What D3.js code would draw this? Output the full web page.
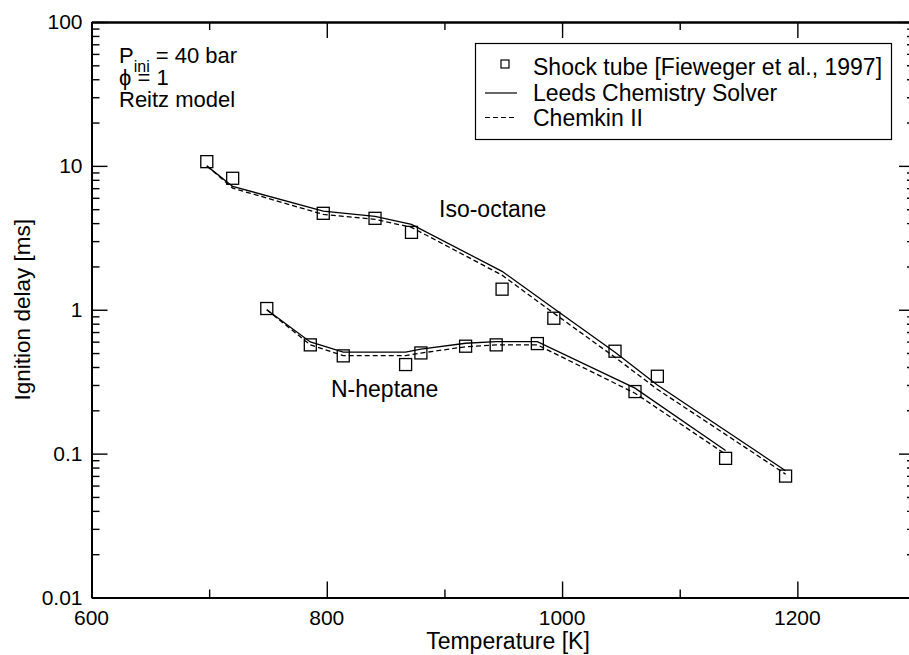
<!DOCTYPE html>
<html>
<head>
<meta charset="utf-8">
<script src="https://cdn.jsdelivr.net/npm/d3@7"></script>
<style>
  body { margin: 0; background: #fff; }
  svg { display: block; }
  text { font-family: "Liberation Sans", Arial, Helvetica, sans-serif; fill: #000; }
</style>
</head>
<body>
<svg id="chart" width="909" height="655"></svg>
<script>
// Shock tube measurements (Fieweger et al., 1997)
const isoExpTemp   = [698, 720, 797, 841, 872, 949, 993, 1045, 1081, 1190];
const isoExpDelay  = [10.7, 8.2, 4.68, 4.32, 3.45, 1.39, 0.873, 0.515, 0.345, 0.0698];
const hepExpTemp   = [749, 786, 814, 867, 880, 918, 944, 979, 1062, 1139];
const hepExpDelay  = [1.02, 0.570, 0.478, 0.416, 0.501, 0.558, 0.570, 0.582, 0.270, 0.0927];

// Model predictions (Reitz model) at the same temperatures
const isoLeeds     = [10.0, 7.2, 4.85, 4.46, 3.92, 1.85, 1.02, 0.507, 0.300, 0.076];
const isoChemkin   = [10.0, 7.0, 4.60, 4.25, 3.74, 1.74, 0.946, 0.467, 0.280, 0.072];
const hepLeeds     = [1.0, 0.597, 0.507, 0.507, 0.532, 0.585, 0.600, 0.600, 0.285, 0.105];
const hepChemkin   = [1.0, 0.570, 0.480, 0.480, 0.500, 0.553, 0.570, 0.570, 0.263, 0.099];

// Axis ticks
const xMajorTicks = [600, 800, 1000, 1200];
const xMinorTicks = [700, 900, 1100];
const yMajorTicks = [0.01, 0.1, 1, 10, 100];
const yTickLabels = ["0.01", "0.1", "1", "10", "100"];

const legendLabels = ["Shock tube [Fieweger et al., 1997]", "Leeds Chemistry Solver", "Chemkin II"];

const svg = d3.select("#chart");
const plotL = 91.5, plotR = 915, plotT = 22, plotB = 597.5;

const x = d3.scaleLinear().domain([600, 1300]).range([plotL, plotR]);
const y = d3.scaleLog().domain([0.01, 100]).range([plotB, plotT]);

const yMinorTicks = y.ticks().filter(v => !yMajorTicks.some(m => Math.abs(m - v) / m < 1e-9));

const majorLen = 16, minorLen = 8;

function styleAxis(g) {
  g.select(".domain").attr("stroke", "#000").attr("stroke-width", 2);
  g.selectAll(".tick line").attr("stroke", "#000").attr("stroke-width", 1.4);
  g.selectAll(".tick text").remove();
}

// Frame axes: inward ticks on all four sides
svg.append("g").attr("transform", `translate(0,${plotB})`)
  .call(d3.axisBottom(x).tickValues(xMajorTicks).tickSize(-majorLen).tickSizeOuter(0)).call(styleAxis);
svg.append("g").attr("transform", `translate(0,${plotB})`)
  .call(d3.axisBottom(x).tickValues(xMinorTicks).tickSize(-minorLen).tickSizeOuter(0)).call(styleAxis);
svg.append("g").attr("transform", `translate(0,${plotT})`)
  .call(d3.axisTop(x).tickValues(xMajorTicks).tickSize(-majorLen).tickSizeOuter(0)).call(styleAxis);
svg.append("g").attr("transform", `translate(0,${plotT})`)
  .call(d3.axisTop(x).tickValues(xMinorTicks).tickSize(-minorLen).tickSizeOuter(0)).call(styleAxis);

svg.append("g").attr("transform", `translate(${plotL},0)`)
  .call(d3.axisLeft(y).tickValues(yMajorTicks).tickSize(-majorLen).tickSizeOuter(0)).call(styleAxis);
svg.append("g").attr("transform", `translate(${plotL},0)`)
  .call(d3.axisLeft(y).tickValues(yMinorTicks).tickSize(-minorLen).tickSizeOuter(0)).call(styleAxis);
svg.append("g").attr("transform", `translate(${plotR},0)`)
  .call(d3.axisRight(y).tickValues(yMajorTicks).tickSize(-majorLen).tickSizeOuter(0)).call(styleAxis);
svg.append("g").attr("transform", `translate(${plotR},0)`)
  .call(d3.axisRight(y).tickValues(yMinorTicks).tickSize(-minorLen).tickSizeOuter(0)).call(styleAxis);

// Tick labels
svg.append("g").selectAll("text").data(xMajorTicks).join("text")
  .attr("x", d => x(d)).attr("y", plotB + 27)
  .attr("text-anchor", "middle").attr("font-size", 21)
  .text(d => d);
svg.append("g").selectAll("text").data(yMajorTicks).join("text")
  .attr("x", plotL - 9).attr("y", d => y(d) + 7)
  .attr("text-anchor", "end").attr("font-size", 21)
  .text((d, i) => yTickLabels[i]);

// Axis titles
svg.append("text").attr("x", 508).attr("y", 649)
  .attr("text-anchor", "middle").attr("font-size", 23).text("Temperature [K]");
svg.append("text").attr("transform", `translate(30,${(plotT + plotB) / 2}) rotate(-90)`)
  .attr("text-anchor", "middle").attr("font-size", 22.5).text("Ignition delay [ms]");

// Model curves
const line = d3.line().x(d => x(d[0])).y(d => y(d[1]));
const curves = [
  { t: isoExpTemp, v: isoLeeds, dash: null },
  { t: isoExpTemp, v: isoChemkin, dash: "5,3" },
  { t: hepExpTemp, v: hepLeeds, dash: null },
  { t: hepExpTemp, v: hepChemkin, dash: "5,3" }
];
svg.append("g").selectAll("path").data(curves).join("path")
  .attr("d", c => line(d3.zip(c.t, c.v)))
  .attr("fill", "none").attr("stroke", "#000").attr("stroke-width", 1.3)
  .attr("stroke-dasharray", c => c.dash);

// Shock tube points
const sq = 12;
const points = d3.zip(isoExpTemp, isoExpDelay).concat(d3.zip(hepExpTemp, hepExpDelay));
svg.append("g").selectAll("rect").data(points).join("rect")
  .attr("x", d => x(d[0]) - sq / 2).attr("y", d => y(d[1]) - sq / 2)
  .attr("width", sq).attr("height", sq)
  .attr("fill", "none").attr("stroke", "#000").attr("stroke-width", 1.3);

// Curve labels
svg.append("text").attr("x", 439).attr("y", 217).attr("font-size", 23).text("Iso-octane");
svg.append("text").attr("x", 331).attr("y", 397).attr("font-size", 23).text("N-heptane");

// Conditions
const cond = svg.append("g");
const p = cond.append("text").attr("x", 119).attr("y", 63).attr("font-size", 22);
p.append("tspan").text("P");
p.append("tspan").attr("font-size", 16).attr("dy", 9).text("ini");
p.append("tspan").attr("dy", -9).text(" = 40 bar");
cond.append("text").attr("x", 119).attr("y", 85).attr("font-size", 22).text("\u03D5 = 1");
cond.append("text").attr("x", 119).attr("y", 107).attr("font-size", 22).text("Reitz model");

// Legend
const lg = svg.append("g");
lg.append("rect").attr("x", 475.5).attr("y", 43.5).attr("width", 416).attr("height", 96)
  .attr("fill", "#fff").attr("stroke", "#000").attr("stroke-width", 1.2);
const rowY = [64, 93, 117.5];
lg.append("rect").attr("x", 501).attr("y", rowY[0] - 4).attr("width", 8).attr("height", 8)
  .attr("fill", "none").attr("stroke", "#000").attr("stroke-width", 1.2);
lg.append("line").attr("x1", 485).attr("x2", 517).attr("y1", rowY[1]).attr("y2", rowY[1])
  .attr("stroke", "#000").attr("stroke-width", 1.2);
lg.append("line").attr("x1", 485).attr("x2", 517).attr("y1", rowY[2]).attr("y2", rowY[2])
  .attr("stroke", "#000").attr("stroke-width", 1.2).attr("stroke-dasharray", "5,3");
lg.selectAll("text.lab").data(legendLabels).join("text").attr("class", "lab")
  .attr("x", 533).attr("y", (d, i) => [75, 101, 126][i]).attr("font-size", 23)
  .text(d => d);
</script>
</body>
</html>
